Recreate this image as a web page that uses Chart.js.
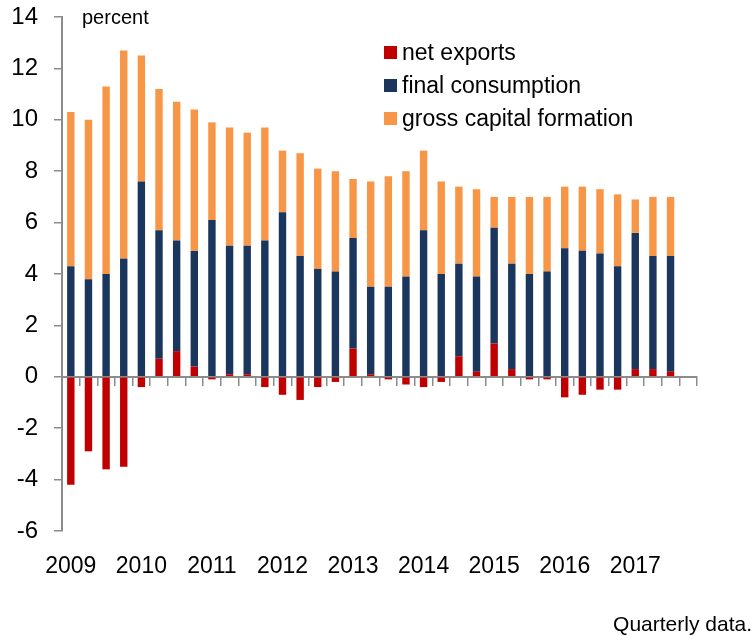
<!DOCTYPE html>
<html>
<head>
<meta charset="utf-8">
<script src="https://cdn.jsdelivr.net/npm/chart.js@4.4.1/dist/chart.umd.min.js"></script>
<style>
    html, body { margin: 0; padding: 0; background: #fff; }
    #wrap { width: 755px; height: 636px; position: relative; }
</style>
</head>
<body>
<div id="wrap"><canvas id="demandChart"></canvas></div>
<script>
// quarters 2009Q1 .. 2017Q4 (last quarter left empty)
const years = [2009, 2010, 2011, 2012, 2013, 2014, 2015, 2016, 2017];
const quarters = [];
years.forEach(y => { for (let q = 1; q <= 4; q++) quarters.push(y + 'Q' + q); });

const netExports = [-4.2, -2.9, -3.6, -3.5, -0.4, 0.7, 1.0, 0.4, -0.1, 0.1,
    0.1, -0.4, -0.7, -0.9, -0.4, -0.2, 1.1, 0.1, -0.1, -0.3,
    -0.4, -0.2, 0.8, 0.2, 1.3, 0.3, -0.1, -0.1, -0.8, -0.7,
    -0.5, -0.5, 0.3, 0.3, 0.2];
const finalConsumption = [4.3, 3.8, 4.0, 4.6, 7.6, 5.0, 4.3, 4.5, 6.1, 5.0,
    5.0, 5.3, 6.4, 4.7, 4.2, 4.1, 4.3, 3.4, 3.5, 3.9,
    5.7, 4.0, 3.6, 3.7, 4.5, 4.1, 4.0, 4.1, 5.0, 4.9,
    4.8, 4.3, 5.3, 4.4, 4.5];
const grossCapital = [6.0, 6.2, 7.3, 8.1, 4.9, 5.5, 5.4, 5.5, 3.8, 4.6,
    4.4, 4.4, 2.4, 4.0, 3.9, 3.9, 2.3, 4.1, 4.3, 4.1,
    3.1, 3.6, 3.0, 3.4, 1.2, 2.6, 3.0, 2.9, 2.4, 2.5,
    2.5, 2.8, 1.3, 2.3, 2.3];

const FONT = "'Liberation Sans', Arial, sans-serif";
const AXIS_GREY = '#8c8c8c';

// legend + small notes drawn on the canvas
const notesPlugin = {
    id: 'notes',
    afterDraw(chart) {
        const ctx = chart.ctx;
        ctx.save();
        ctx.fillStyle = '#000';
        ctx.textBaseline = 'middle';

        ctx.font = '20px ' + FONT;
        ctx.textAlign = 'left';
        ctx.fillText('percent', 82, 18);

        ctx.font = '21px ' + FONT;
        ctx.textAlign = 'right';
        ctx.fillText('Quarterly data.', 752, 625);

        ctx.textAlign = 'left';
        ctx.font = '23px ' + FONT;
        chart.data.datasets.forEach((ds, i) => {
            const y = 52.5 + i * 33;
            ctx.fillStyle = ds.backgroundColor;
            ctx.fillRect(384, y - 6.5, 13, 13);
            ctx.fillStyle = '#000';
            ctx.fillText(ds.label, 402, y + 1);
        });
        ctx.restore();
    }
};

const ctx = document.getElementById('demandChart').getContext('2d');
new Chart(ctx, {
    type: 'bar',
    data: {
        labels: quarters,
        datasets: [
            { label: 'net exports', data: netExports, backgroundColor: '#c00000' },
            { label: 'final consumption', data: finalConsumption, backgroundColor: '#1a365d' },
            { label: 'gross capital formation', data: grossCapital, backgroundColor: '#f79646' }
        ]
    },
    options: {
        responsive: true,
        maintainAspectRatio: false,
        animation: false,
        layout: { padding: { top: 17, right: 58, left: 0, bottom: 0 } },
        datasets: {
            bar: { categoryPercentage: 1.0, barPercentage: 0.42, borderWidth: 0 }
        },
        scales: {
            x: {
                stacked: true,
                position: { y: 0 },
                grid: {
                    offset: true,
                    drawOnChartArea: false,
                    drawTicks: true,
                    tickLength: 8,
                    color: AXIS_GREY,
                    lineWidth: 1.5
                },
                border: { color: AXIS_GREY, width: 2 },
                ticks: { display: false }
            },
            xLabels: {
                type: 'category',
                position: 'bottom',
                grid: { display: false, drawTicks: false },
                border: { display: false },
                ticks: {
                    autoSkip: false,
                    maxRotation: 0,
                    padding: 22,
                    color: '#000',
                    font: { family: FONT, size: 23 },
                    callback: function (val, i) {
                        const q = quarters[i];
                        return q.endsWith('Q1') ? q.slice(0, 4) : '';
                    }
                },
                afterFit(scale) { scale.height = 105; }
            },
            y: {
                stacked: true,
                min: -6,
                max: 14,
                ticks: {
                    stepSize: 2,
                    padding: 16,
                    color: '#000',
                    font: { family: FONT, size: 24 }
                },
                grid: {
                    drawOnChartArea: false,
                    drawTicks: true,
                    tickLength: 8,
                    color: AXIS_GREY,
                    lineWidth: 1.5
                },
                border: { color: AXIS_GREY, width: 2 },
                afterFit(scale) {
                    scale.width = 62;
                    scale.paddingTop = 0;
                    scale.paddingBottom = 0;
                }
            }
        },
        plugins: {
            legend: { display: false },
            tooltip: { enabled: false }
        }
    },
    plugins: [notesPlugin]
});
</script>
</body>
</html>
